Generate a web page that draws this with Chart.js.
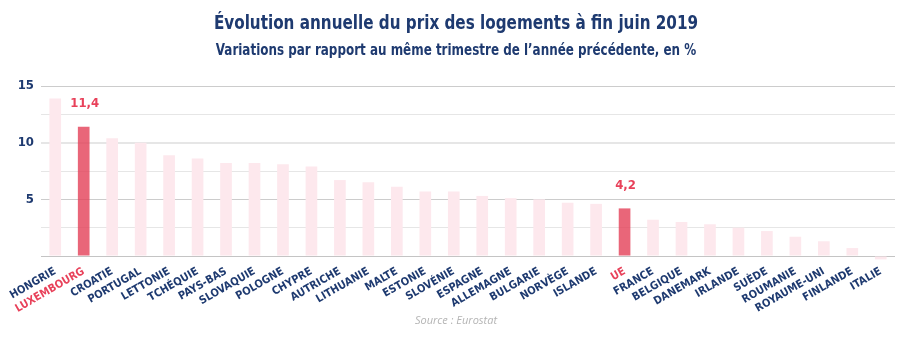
<!DOCTYPE html>
<html lang="fr">
<head>
<meta charset="utf-8">
<script src="https://cdn.jsdelivr.net/npm/chart.js@4.4.1/dist/chart.umd.min.js"></script>
<style>
  html, body { margin: 0; padding: 0; background: #fff; }
  #wrap { position: relative; width: 912px; height: 340px; }
  #titre, #sousTitre, #source { position: absolute; left: 0; width: 912px; text-align: center; }
  #titre { top: 10px; font: bold 20px "DejaVu Sans Condensed", sans-serif; color: #1e3a70; transform: scaleX(0.845); transform-origin: 456px 0; }
  #sousTitre { top: 40px; font: bold 16px "DejaVu Sans Condensed", sans-serif; color: #1e3a70; transform: scaleX(0.83); transform-origin: 456px 0; }
  #source { top: 312px; font: italic 11px "Open Sans", sans-serif; color: #b4b4b4; }
</style>
</head>
<body>
<div id="wrap">
  <canvas id="prixChart" width="912" height="340"></canvas>
  <div id="titre">Évolution annuelle du prix des logements à fin juin 2019</div>
  <div id="sousTitre">Variations par rapport au même trimestre de l’année précédente, en %</div>
  <div id="source">Source : Eurostat</div>
</div>
<script>
// Données (lecture du graphique)
const pays = ['HONGRIE', 'LUXEMBOURG', 'CROATIE', 'PORTUGAL', 'LETTONIE', 'TCHÉQUIE', 'PAYS-BAS',
  'SLOVAQUIE', 'POLOGNE', 'CHYPRE', 'AUTRICHE', 'LITHUANIE', 'MALTE', 'ESTONIE', 'SLOVÉNIE',
  'ESPAGNE', 'ALLEMAGNE', 'BULGARIE', 'NORVÈGE', 'ISLANDE', 'UE', 'FRANCE', 'BELGIQUE',
  'DANEMARK', 'IRLANDE', 'SUÈDE', 'ROUMANIE', 'ROYAUME-UNI', 'FINLANDE', 'ITALIE'];
const variation = [13.9, 11.4, 10.4, 10.0, 8.9, 8.6, 8.2, 8.2, 8.1, 7.9, 6.7, 6.5, 6.1, 5.7, 5.7,
  5.3, 5.1, 5.0, 4.7, 4.6, 4.2, 3.2, 3.0, 2.8, 2.5, 2.2, 1.7, 1.3, 0.7, -0.3];
const enAvant = ['LUXEMBOURG', 'UE'];
const ticksY = [5, 10, 15];

const BLEU = '#1e3a70';
const ROUGE = '#e8415a';

// Étiquettes de valeur au-dessus des barres mises en avant
const etiquettes = {
  id: 'etiquettes',
  afterDatasetsDraw(chart) {
    const ctx = chart.ctx;
    const meta = chart.getDatasetMeta(0);
    ctx.save();
    ctx.font = 'bold 13px "DejaVu Sans Condensed", sans-serif';
    ctx.fillStyle = ROUGE;
    ctx.textAlign = 'center';
    ctx.textBaseline = 'middle';
    pays.forEach((p, i) => {
      if (!enAvant.includes(p)) return;
      const bar = meta.data[i];
      ctx.fillText(variation[i].toFixed(1).replace('.', ','), bar.x + 1, bar.y - 23);
    });
    ctx.restore();
  }
};

const ctx = document.getElementById('prixChart').getContext('2d');
new Chart(ctx, {
  type: 'bar',
  data: {
    labels: pays,
    datasets: [{
      data: variation,
      backgroundColor: pays.map(p => enAvant.includes(p) ? 'rgba(228,64,88,0.8)' : '#fde8ed'),
      barPercentage: 0.41,
      categoryPercentage: 1,
      clip: false
    }]
  },
  options: {
    responsive: false,
    animation: false,
    layout: { padding: { top: 86, right: 17, left: 0, bottom: 0 } },
    plugins: {
      legend: { display: false },
      tooltip: { enabled: false }
    },
    scales: {
      x: {
        afterFit: s => { s.height = 84; },
        grid: { display: false },
        border: { display: false },
        ticks: {
          autoSkip: false,
          minRotation: 30,
          maxRotation: 30,
          padding: 1,
          color: c => enAvant.includes(pays[c.index]) ? ROUGE : BLEU,
          font: { family: '"DejaVu Sans Condensed", sans-serif', size: 11, weight: 'bold' }
        }
      },
      y: {
        min: 0,
        max: 15,
        afterFit: s => { s.width = 41; },
        border: { display: false },
        grid: {
          drawTicks: false,
          color: c => c.tick.value === 0 ? '#c4c4c4' : (c.tick.value === 10 ? '#e6e6e6' : (c.tick.value % 5 === 0 ? '#cccccc' : '#e6e6e6')),
          lineWidth: c => c.tick.value === 10 ? 2 : 1
        },
        ticks: {
          stepSize: 2.5,
          padding: 7,
          color: BLEU,
          font: { family: '"DejaVu Sans Condensed", sans-serif', size: 13, weight: 'bold' },
          callback: v => ticksY.includes(v) ? v : ''
        }
      }
    }
  },
  plugins: [etiquettes]
});
</script>
</body>
</html>
